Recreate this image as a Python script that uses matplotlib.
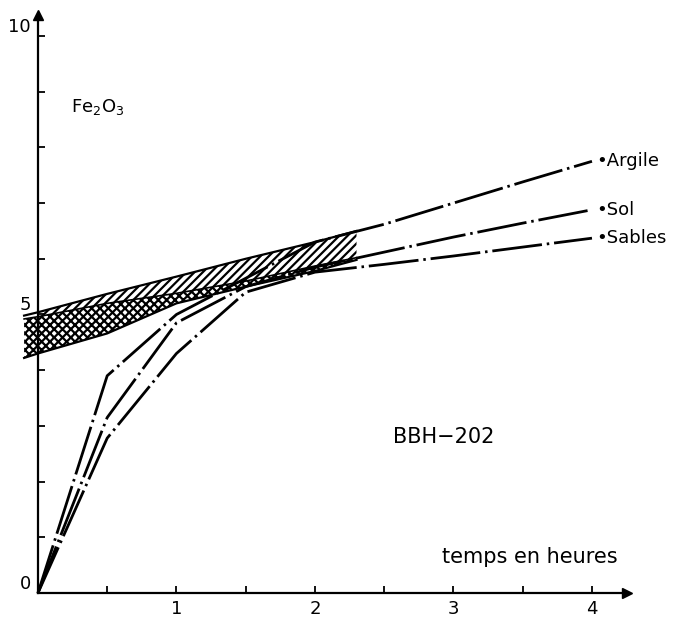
import numpy as np
import matplotlib
matplotlib.use('Agg')
from matplotlib import pyplot as plt

plt.rcParams['font.family'] = ['DejaVu Sans']
plt.rcParams['hatch.linewidth'] = 1.6
plt.rcParams['lines.scale_dashes'] = False

# temps en heures
t = np.array([0, 0.5, 1, 1.5, 2, 2.5, 3, 3.5, 4])
argile = np.array([0, 3.9, 5.0, 5.65, 6.3, 6.62, 7.0, 7.38, 7.75])
sol = np.array([0, 3.15, 4.85, 5.5, 5.85, 6.12, 6.39, 6.64, 6.88])
sables = np.array([0, 2.78, 4.3, 5.4, 5.76, 5.9, 6.05, 6.21, 6.37])

# zones hachurees
band_x = np.array([-0.1, 0, 0.5, 1, 1.5, 2, 2.3])
band_top = np.array([4.98, 5.04, 5.37, 5.68, 6.0, 6.3, 6.5])
band_mid = np.array([4.92, 4.96, 5.2, 5.38, 5.6, 5.87, 6.02])
band_low = np.array([4.22, 4.3, 4.66, 5.2, 5.5, 5.78, 5.98])

curves = [(argile, 'Argile'), (sol, 'Sol'), (sables, 'Sables')]

fig = plt.figure(figsize=(6.73, 6.18), dpi=100)
ax = fig.add_axes([0, 0, 1, 1])
ax.set_xlim(-0.274, 4.585)
ax.set_ylim(-0.449, 10.646)

# bandes
ax.fill_between(band_x[1:], band_mid[1:], band_top[1:], facecolor='white',
                edgecolor='black', hatch='////', linewidth=0)
ax.fill_between(band_x, band_low, band_mid, facecolor='white',
                edgecolor='black', hatch='xxxx', linewidth=0)
ax.plot(band_x, band_top, color='black', lw=1.6)
ax.plot(band_x, band_mid, color='black', lw=1.2)
ax.plot(band_x, band_low, color='black', lw=1.6)

dash = (0, (36, 3.5, 1.8, 3.5))
for y, name in curves:
    ax.plot(t, y, color='black', lw=2.0, linestyle=dash, solid_capstyle='butt')
    ax.text(t[-1] + 0.03, y[-1], '\u2022' + name, fontsize=13,
            ha='left', va='center')

# axes avec fleches
for s in ['top', 'right']:
    ax.spines[s].set_visible(False)
ax.spines['left'].set_position(('data', 0))
ax.spines['bottom'].set_position(('data', 0))
ax.spines['left'].set_bounds(0, 10.35)
ax.spines['bottom'].set_bounds(0, 4.22)
ax.spines['left'].set_linewidth(1.6)
ax.spines['bottom'].set_linewidth(1.6)
ax.plot([0], [10.38], marker='^', color='black', markersize=7, clip_on=False)
ax.plot([4.25], [0], marker='>', color='black', markersize=7, clip_on=False)

ax.set_yticks(np.arange(0, 11))
ax.set_yticklabels(['0', '', '', '', '', '5', '', '', '', '', '10'],
                   fontsize=13, va='bottom')
ax.set_xticks(np.arange(0.5, 4.01, 0.5))
ax.set_xticklabels(['', '1', '', '2', '', '3', '', '4'], fontsize=13)
ax.tick_params(axis='both', direction='in', length=5, width=1.3, pad=5)

ax.text(0.24, 8.73, 'Fe$_2$O$_3$', fontsize=13, va='center')
ax.text(2.56, 2.8, 'BBH\u2212202', fontsize=15, va='center')
ax.text(2.92, 0.65, 'temps en heures', fontsize=15, va='center')

plt.savefig('out.png', dpi=100)
